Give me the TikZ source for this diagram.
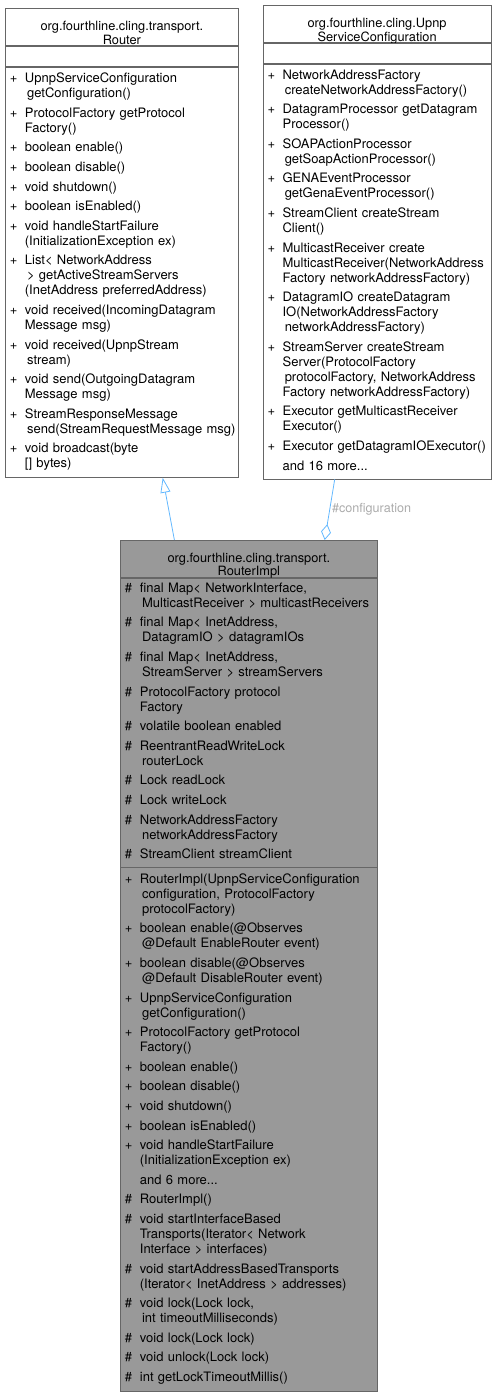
\documentclass[tikz,border=0pt]{standalone}
\usepackage{fontspec}
\setmainfont{TeX Gyre Heros}
\usetikzlibrary{arrows.meta,positioning,calc}

\definecolor{edgeblue}{HTML}{63B8FF}
\definecolor{boxline}{HTML}{666666}
\definecolor{implfill}{HTML}{999999}
\definecolor{lblgrey}{HTML}{ABABAB}

% one member: visibility column + text column
\newcommand{\sym}[1]{\makebox[15pt][l]{#1}}
\newcommand{\nx}{\\[4.6pt]}
\newenvironment{members}{\noindent\begin{tabular}{@{}l@{}l@{}}}{\end{tabular}}

\begin{document}
\begin{tikzpicture}[x=1pt, y=-1pt, >=Latex, font=\fontsize{13}{15}\selectfont]
  \tikzstyle{cpart}=[draw=boxline, line width=0.8pt, fill=white, inner xsep=4.5pt, inner ysep=0pt, align=left]
  \tikzstyle{clsname}=[cpart, align=center, font=\fontsize{12.8}{13.5}\selectfont, text height=22pt, text depth=15pt]
  \tikzstyle{implpart}=[fill=implfill]
  \tikzstyle{link}=[draw=edgeblue, line width=0.8pt]
  \tikzstyle{lbl}=[text=lblgrey, font=\fontsize{12.6}{14}\selectfont, inner sep=1pt]

  \useasboundingbox (0,0) rectangle (496,1395);

  % ------- Router -------
  \node[clsname, text width=224pt, anchor=north west] (router) at (5,8.3) {org.fourthline.cling.transport.\\Router};
  \node[cpart, text width=224pt, minimum height=20pt, below=0pt of router] (routerattr) {};
  \node[cpart, text width=224pt, minimum height=410pt, below=0pt of routerattr] (routerops) {\begin{members}
    \sym{+} & UpnpServiceConfiguration\\ & \,getConfiguration()\nx
    \sym{+} & ProtocolFactory getProtocol\\ & Factory()\nx
    \sym{+} & boolean enable()\nx
    \sym{+} & boolean disable()\nx
    \sym{+} & void shutdown()\nx
    \sym{+} & boolean isEnabled()\nx
    \sym{+} & void handleStartFailure\\ & (InitializationException ex)\nx
    \sym{+} & List< NetworkAddress\\ & \,> getActiveStreamServers\\ & (InetAddress preferredAddress)\nx
    \sym{+} & void received(IncomingDatagram\\ & Message msg)\nx
    \sym{+} & void received(UpnpStream\\ & \,stream)\nx
    \sym{+} & void send(OutgoingDatagram\\ & Message msg)\nx
    \sym{+} & StreamResponseMessage\\ & \,send(StreamRequestMessage msg)\nx
    \sym{+} & void broadcast(byte\\ & [] bytes)
  \end{members}};

  % ------- UpnpServiceConfiguration -------
  \node[clsname, text width=219pt, anchor=north west] (config) at (262.7,5.3) {org.fourthline.cling.Upnp\\ServiceConfiguration};
  \node[cpart, text width=219pt, minimum height=20pt, below=0pt of config] (configattr) {};
  \node[cpart, text width=219pt, minimum height=414.7pt, below=0pt of configattr] (configops) {\begin{members}
    \sym{+} & NetworkAddressFactory\\ & \,createNetworkAddressFactory()\nx
    \sym{+} & DatagramProcessor getDatagram\\ & Processor()\nx
    \sym{+} & SOAPActionProcessor\\ & \,getSoapActionProcessor()\nx
    \sym{+} & GENAEventProcessor\\ & \,getGenaEventProcessor()\nx
    \sym{+} & StreamClient createStream\\ & Client()\nx
    \sym{+} & MulticastReceiver create\\ & MulticastReceiver(NetworkAddress\\ & Factory networkAddressFactory)\nx
    \sym{+} & DatagramIO createDatagram\\ & IO(NetworkAddressFactory\\ & \,networkAddressFactory)\nx
    \sym{+} & StreamServer createStream\\ & Server(ProtocolFactory\\ & \,protocolFactory, NetworkAddress\\ & Factory networkAddressFactory)\nx
    \sym{+} & Executor getMulticastReceiver\\ & Executor()\nx
    \sym{+} & Executor getDatagramIOExecutor()\nx
    & and 16 more...
  \end{members}};

  % ------- RouterImpl -------
  \node[clsname, implpart, text width=248pt, anchor=north west] (impl) at (120,540) {org.fourthline.cling.transport.\\RouterImpl};
  \node[cpart, implpart, text width=248pt, minimum height=288.7pt, below=0pt of impl] (implattr) {\begin{members}
    \sym{\#} & final Map< NetworkInterface,\\ & \,MulticastReceiver > multicastReceivers\nx
    \sym{\#} & final Map< InetAddress,\\ & \,DatagramIO > datagramIOs\nx
    \sym{\#} & final Map< InetAddress,\\ & \,StreamServer > streamServers\nx
    \sym{\#} & ProtocolFactory protocol\\ & Factory\nx
    \sym{\#} & volatile boolean enabled\nx
    \sym{\#} & ReentrantReadWriteLock\\ & \,routerLock\nx
    \sym{\#} & Lock readLock\nx
    \sym{\#} & Lock writeLock\nx
    \sym{\#} & NetworkAddressFactory\\ & \,networkAddressFactory\nx
    \sym{\#} & StreamClient streamClient
  \end{members}};
  \node[cpart, implpart, text width=248pt, minimum height=523.3pt, below=0pt of implattr] (implops) {\begin{members}
    \sym{+} & RouterImpl(UpnpServiceConfiguration\\ & \,configuration, ProtocolFactory\\ & \,protocolFactory)\nx
    \sym{+} & boolean enable(@Observes\\ & \,@Default EnableRouter event)\nx
    \sym{+} & boolean disable(@Observes\\ & \,@Default DisableRouter event)\nx
    \sym{+} & UpnpServiceConfiguration\\ & \,getConfiguration()\nx
    \sym{+} & ProtocolFactory getProtocol\\ & Factory()\nx
    \sym{+} & boolean enable()\nx
    \sym{+} & boolean disable()\nx
    \sym{+} & void shutdown()\nx
    \sym{+} & boolean isEnabled()\nx
    \sym{+} & void handleStartFailure\\ & (InitializationException ex)\nx
    & and 6 more...\nx
    \sym{\#} & RouterImpl()\nx
    \sym{\#} & void startInterfaceBased\\ & Transports(Iterator< Network\\ & Interface > interfaces)\nx
    \sym{\#} & void startAddressBasedTransports\\ & (Iterator< InetAddress > addresses)\nx
    \sym{\#} & void lock(Lock lock,\\ & \,int timeoutMilliseconds)\nx
    \sym{\#} & void lock(Lock lock)\nx
    \sym{\#} & void unlock(Lock lock)\nx
    \sym{\#} & int getLockTimeoutMillis()
  \end{members}};

  % ------- relations -------
  \draw[link, -{Triangle[open, length=15pt, width=10pt]}] ($(impl.north)+(-74.5,0)$) -- ($(routerops.south)+(40.8,0)$);
  \draw[link, -{Diamond[open, length=16pt, width=10pt]}] ($(configops.south)+(-42.4,0)$) -- node[lbl, anchor=west, pos=0.5, xshift=1pt] {\#configuration} ($(impl.north)+(75.8,0)$);
\end{tikzpicture}
\end{document}
